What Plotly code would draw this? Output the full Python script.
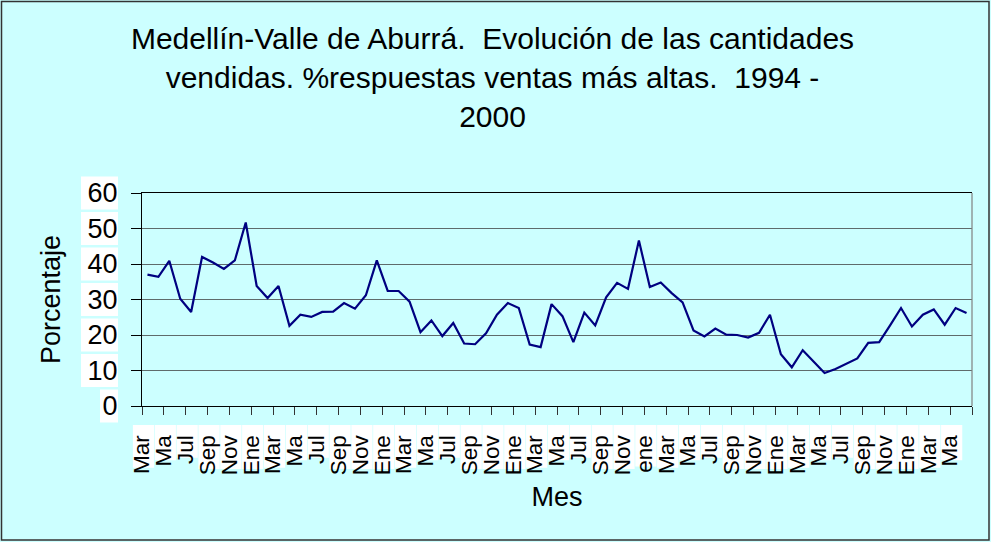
import plotly.graph_objects as go

# ---- data ----
meses_abrev = ["Ene", "Feb", "Mar", "Abr", "May", "Jun", "Jul", "Ago", "Sep", "Oct", "Nov", "Dic"]
anio_inicio, mes_inicio = 1994, 3   # Mar 1994
anio_fin, mes_fin = 2000, 6         # Jun 2000

porcentaje = [
    37.0, 36.4, 40.9, 30.2, 26.5, 42.0, 40.4, 38.6, 41.0, 51.7,
    33.8, 30.4, 33.8, 22.6, 25.7, 25.1, 26.5, 26.6, 29.0, 27.4,
    31.2, 41.0, 32.4, 32.4, 29.4, 20.8, 24.1, 19.7, 23.4, 17.6,
    17.4, 20.5, 25.7, 29.0, 27.6, 17.3, 16.6, 28.7, 25.3, 18.0,
    26.3, 22.7, 30.6, 34.7, 33.0, 46.6, 33.5, 34.8, 31.8, 29.2,
    21.3, 19.6, 21.8, 20.1, 20.0, 19.3, 20.6, 25.7, 14.6, 10.9,
    15.7, 12.5, 9.3, 10.4, 11.9, 13.4, 17.8, 18.0, 22.7, 27.6,
    22.4, 25.7, 27.2, 22.9, 27.6, 26.2,
]

etiquetas_x = [
    "Mar", "Ma", "Jul", "Sep", "Nov",
    "Ene", "Mar", "Ma", "Jul", "Sep", "Nov",
    "Ene", "Mar", "Ma", "Jul", "Sep", "Nov",
    "Ene", "Mar", "Ma", "Jul", "Sep", "Nov",
    "ene", "Mar", "Ma", "Jul", "Sep", "Nov",
    "Ene", "Mar", "Ma", "Jul", "Sep", "Nov",
    "Ene", "Mar", "Ma",
]

y_ticks = [0, 10, 20, 30, 40, 50, 60]

titulo = ("Medellín-Valle de Aburrá.  Evolución de las cantidades<br>"
          "vendidas. %respuestas ventas más altas.  1994 -<br>2000")

# ---- categories (one per month) ----
meses = []
a, m = anio_inicio, mes_inicio
while (a, m) <= (anio_fin, mes_fin):
    meses.append(f"{meses_abrev[m - 1]} {a}")
    m += 1
    if m > 12:
        m = 1
        a += 1

n = len(porcentaje)
idx = list(range(n))
# tick marks / labels every two categories, on category boundaries
tick_pos = [i - 0.5 for i in range(0, n + 1, 2)]
tick_txt = etiquetas_x + [""] * (len(tick_pos) - len(etiquetas_x))

FONT = "Liberation Sans, Arial, sans-serif"
BG = "#CCFFFF"
X_FS, Y_FS = 22.5, 27

fig = go.Figure()
fig.add_trace(go.Scatter(
    x=idx, y=porcentaje, mode="lines",
    line=dict(color="#000080", width=2.2),
    hovertext=meses, hoverinfo="text+y", showlegend=False,
))

W, H = 991, 542
ml, mr, mt, mb = 142, 19, 193, 136
pw, ph = W - ml - mr, H - mt - mb

def px2x(p):
    return (p - ml) / pw

def py2y(p):
    return (H - mb - p) / ph

# approximate Arial advance widths (em) for the white label boxes
anchos = {"M": .833, "a": .556, "r": .333, "J": .5, "u": .556, "l": .222, "S": .667,
          "e": .556, "p": .556, "N": .722, "o": .556, "v": .5, "E": .667, "n": .556}

shapes = [
    # outer chart border
    dict(type="rect", xref="paper", yref="paper",
         x0=px2x(1.5), x1=px2x(989), y0=py2y(540), y1=py2y(1.5),
         line=dict(color="#333333", width=1.5), fillcolor="rgba(0,0,0,0)", layer="below"),
    # right border of plot area
    dict(type="line", xref="paper", yref="paper", x0=1, x1=1, y0=0, y1=1,
         line=dict(color="#808080", width=1.2)),
]

# white backgrounds behind the y tick labels
for v in y_ticks:
    yc = v / 60
    half = 16.5 / ph
    x_left = 81 if v >= 10 else 100
    shapes.append(dict(type="rect", xref="paper", yref="paper",
                       x0=px2x(x_left), x1=px2x(118), y0=yc - half, y1=yc + half,
                       line=dict(width=0), fillcolor="white", layer="below"))

# white backgrounds behind the x tick labels
for t, lab in zip(tick_pos, etiquetas_x):
    xc = (t + 0.5) / n
    halfw = 10.6 / pw
    largo = sum(anchos.get(c, .55) for c in lab) * X_FS + 4
    top = 425
    shapes.append(dict(type="rect", xref="paper", yref="paper",
                       x0=xc - halfw + 1.5 / pw, x1=xc + halfw + 1.5 / pw,
                       y0=py2y(top + largo), y1=py2y(top),
                       line=dict(width=0), fillcolor="white", layer="below"))

fig.update_layout(
    width=W, height=H,
    margin=dict(l=ml, r=mr, t=mt, b=mb, autoexpand=False),
    paper_bgcolor=BG, plot_bgcolor=BG,
    font=dict(family=FONT, color="black"),
    title=dict(text=titulo, x=492.5 / W, xref="container", xanchor="center",
               y=1 - 49 / H, yref="container", yanchor="top",
               font=dict(size=30, family=FONT, color="black")),
    shapes=shapes,
    xaxis=dict(
        range=[-0.5, n - 0.5],
        tickmode="array", tickvals=tick_pos, ticktext=tick_txt,
        tickangle=-90, tickfont=dict(size=X_FS, family=FONT, color="black"),
        ticks="outside", ticklen=8, tickcolor="#333333", tickwidth=1.2,
        ticklabelstandoff=11,
        showgrid=False, zeroline=False,
        showline=True, linecolor="black", linewidth=1.3, mirror=True,
        title=dict(text="Mes", font=dict(size=27, family=FONT, color="black"), standoff=12),
        automargin=False,
    ),
    yaxis=dict(
        range=[0, 60], tickmode="array", tickvals=y_ticks,
        tickfont=dict(size=Y_FS, family=FONT, color="black"),
        ticks="outside", ticklen=10, tickcolor="black", tickwidth=1.2,
        ticklabelstandoff=8,
        showgrid=True, gridcolor="#5f6b6b", gridwidth=1.2,
        zeroline=False,
        showline=True, linecolor="black", linewidth=1.3,
        title=dict(text="Porcentaje", font=dict(size=27, family=FONT, color="black"), standoff=18),
        automargin=False,
    ),
)

fig.write_html("out.html", config={"displayModeBar": False},
               post_script="document.body.style.margin='0';document.body.style.overflow='hidden';")
